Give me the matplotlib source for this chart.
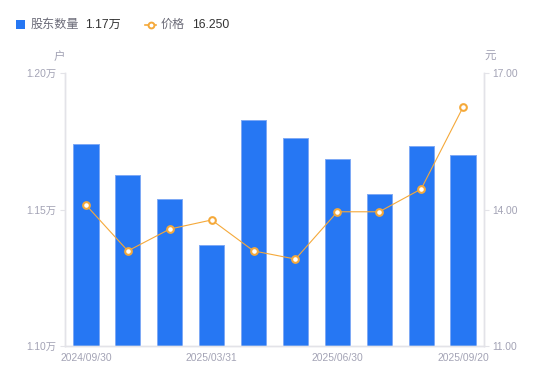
import matplotlib
matplotlib.use("Agg")
import matplotlib.pyplot as plt
from matplotlib.patches import Rectangle
from matplotlib.lines import Line2D
import numpy as np

plt.rcParams['font.family'] = ['Liberation Sans', 'Noto Sans CJK SC', 'DejaVu Sans']

dates = ["2024/09/30", "2024/12/31", "2025/02/20", "2025/03/31", "2025/04/30",
         "2025/05/20", "2025/06/30", "2025/07/31", "2025/08/31", "2025/09/20"]
shown_labels = ["2024/09/30", "2025/03/31", "2025/06/30", "2025/09/20"]
holders = [1.174, 1.1625, 1.1537, 1.137, 1.1828, 1.1762, 1.1685, 1.1557, 1.1733, 1.170]  # 万户
price = [14.10, 13.09, 13.57, 13.77, 13.09, 12.91, 13.95, 13.95, 14.45, 16.25]
left_ticks = [1.10, 1.15, 1.20]
right_ticks = [11.0, 14.0, 17.0]

W, H = 550, 381
fig = plt.figure(figsize=(W / 100, H / 100), dpi=100)
ax = fig.add_axes([65 / W, 1 - 346 / H, (484 - 65) / W, (346 - 73) / H])
ax2 = ax.twinx()

bar_color = "#2677F3"
line_color = "#F5A93A"
tick_color = "#A3A3B5"
spine_color = "#E3E3E8"

x = np.arange(len(dates))
ax.bar(x, holders, width=0.6, color=bar_color, edgecolor="#7EA9F5", linewidth=0.7, zorder=2)
ax.set_xlim(-0.5, len(dates) - 0.5)
ax.set_ylim(left_ticks[0], left_ticks[-1])
ax.set_yticks(left_ticks)
ax.set_yticklabels([f"{v:.2f}万" for v in left_ticks])

ax2.plot(x, price, color=line_color, linewidth=0.8, marker="o", markersize=4.8,
         markerfacecolor="white", markeredgecolor=line_color, markeredgewidth=1.5, zorder=3)
ax2.set_ylim(right_ticks[0], right_ticks[-1])
ax2.set_yticks(right_ticks)
ax2.set_yticklabels([f"{v:.2f}" for v in right_ticks])

ax.set_xticks([dates.index(d) for d in shown_labels])
ax.set_xticklabels(shown_labels)

for a in (ax, ax2):
    for s in a.spines.values():
        s.set_color(spine_color)
        s.set_linewidth(1.0)
    a.spines['top'].set_visible(False)
    a.tick_params(axis='y', colors=spine_color, labelcolor=tick_color, labelsize=7.4,
                  length=3.5, width=0.8, pad=2.5)
ax.tick_params(axis='x', length=0, labelcolor=tick_color, labelsize=7.4, pad=5)
ax.set_zorder(ax2.get_zorder() - 1)
ax.patch.set_visible(True)
ax2.patch.set_visible(False)

# units
fig.text(59 / W, 1 - 57 / H, "户", color=tick_color, fontsize=8.3, ha="center", va="center")
fig.text(490 / W, 1 - 57 / H, "元", color=tick_color, fontsize=8.3, ha="center", va="center")

# legend
fig.patches.append(Rectangle((16 / W, 1 - 29 / H), 9 / W, 9 / H, transform=fig.transFigure,
                             facecolor=bar_color, edgecolor="none"))
fig.text(31 / W, 1 - 24.5 / H, "股东数量", color="#6B6B78", fontsize=8.7, ha="left", va="center")
fig.text(85 / W, 1 - 24.5 / H, f"{holders[-1]:.2f}万", color="#333333", fontsize=8.7, ha="left", va="center")
fig.lines.append(Line2D([145 / W, 156 / W], [1 - 24.5 / H, 1 - 24.5 / H], transform=fig.transFigure,
                        color=line_color, linewidth=1.2))
fig.lines.append(Line2D([150.5 / W], [1 - 24.5 / H], transform=fig.transFigure, marker="o",
                        markersize=4.2, markerfacecolor="white", markeredgecolor=line_color,
                        markeredgewidth=1.4, color=line_color))
fig.text(161 / W, 1 - 24.5 / H, "价格", color="#6B6B78", fontsize=8.7, ha="left", va="center")
fig.text(192 / W, 1 - 24.5 / H, f"{price[-1]:.3f}", color="#333333", fontsize=8.7, ha="left", va="center")

fig.savefig("out.png", dpi=100, facecolor="white")
